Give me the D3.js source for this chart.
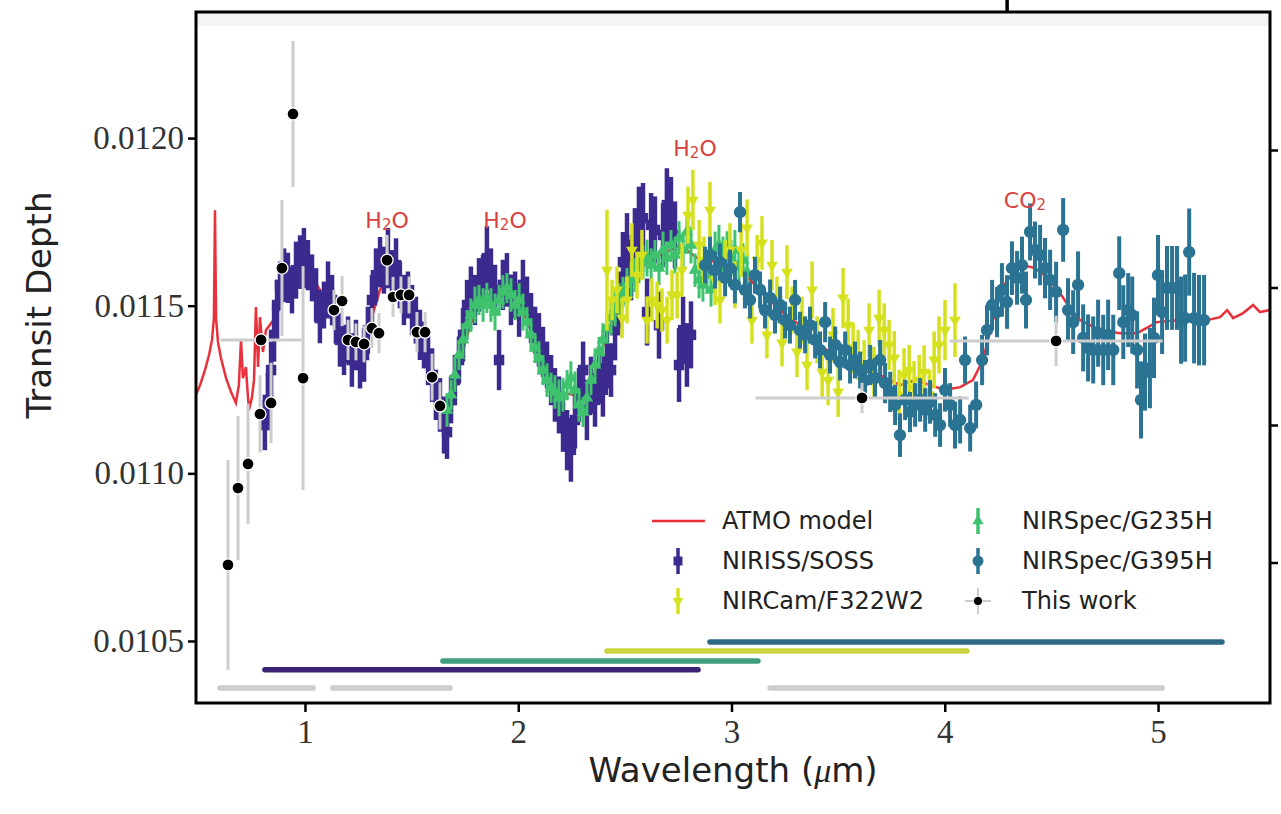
<!DOCTYPE html>
<html>
<head>
<meta charset="utf-8">
<script src="https://cdn.jsdelivr.net/npm/d3@7"></script>
<style>
  body { margin: 0; background: #fff; }
  svg { display: block; }
</style>
</head>
<body>
<svg></svg>
<script>
// transmission spectrum: transit depth (ppm) against wavelength (micron)

// ATMO model
const modelWl = [0.489,0.508,0.531,0.550,0.564,0.573,0.578,0.583,0.592,0.606,0.630,0.653,0.676,0.690,0.700,0.709,0.723,0.737,0.751,0.761,0.770,0.780,0.789,0.803,0.817,0.859,0.930,1.000,1.070,1.141,1.211,1.281,1.352,1.399,1.445,1.539,1.633,1.671,1.727,1.797,1.868,1.938,2.008,2.102,2.196,2.266,2.336,2.407,2.477,2.571,2.665,2.758,2.852,2.946,3.040,3.134,3.227,3.321,3.415,3.509,3.603,3.696,3.790,3.865,3.931,4.001,4.072,4.132,4.179,4.226,4.273,4.320,4.367,4.423,4.479,4.540,4.587,4.634,4.728,4.822,4.902,4.995,5.103,5.230,5.291,5.324,5.352,5.399,5.446,5.478,5.525];
const modelDepth = [11234,11263,11308,11353,11398,11463,11785,11463,11392,11344,11284,11243,11210,11263,11398,11284,11317,11189,11225,11278,11496,11317,11466,11362,11427,11463,11562,11621,11547,11457,11383,11398,11547,11606,11577,11427,11234,11189,11338,11487,11532,11532,11502,11368,11240,11234,11249,11398,11517,11612,11651,11681,11636,11630,11606,11547,11487,11442,11383,11338,11308,11293,11263,11278,11263,11249,11257,11278,11338,11457,11556,11600,11621,11612,11586,11538,11493,11457,11427,11418,11418,11451,11457,11457,11466,11487,11463,11478,11502,11481,11487];

// NIRISS/SOSS
const nirissWl = [0.812,0.826,0.841,0.855,0.869,0.883,0.902,0.920,0.939,0.958,0.977,0.995,1.014,1.033,1.052,1.070,1.089,1.108,1.127,1.145,1.164,1.183,1.202,1.220,1.239,1.258,1.277,1.295,1.314,1.333,1.352,1.370,1.389,1.408,1.427,1.445,1.464,1.483,1.502,1.520,1.539,1.558,1.577,1.596,1.614,1.633,1.652,1.666,1.685,1.703,1.722,1.741,1.760,1.778,1.797,1.816,1.835,1.853,1.872,1.891,1.910,1.928,1.947,1.966,1.985,2.004,2.022,2.041,2.060,2.079,2.097,2.116,2.135,2.154,2.172,2.191,2.210,2.229,2.247,2.266,2.285,2.304,2.322,2.341,2.360,2.379,2.397,2.416,2.435,2.454,2.473,2.491,2.510,2.529,2.547,2.566,2.585,2.604,2.623,2.641,2.660,2.679,2.697,2.716,2.735,2.754,2.773,2.791,2.810];
const nirissDepth = [11144,11219,11308,11413,11502,11562,11591,11583,11547,11606,11630,11642,11621,11583,11532,11463,11502,11547,11517,11457,11398,11368,11398,11338,11383,11323,11353,11427,11517,11591,11630,11606,11642,11591,11621,11562,11517,11532,11487,11457,11413,11383,11338,11293,11234,11204,11144,11123,11219,11278,11338,11413,11502,11547,11517,11562,11577,11642,11591,11547,11338,11562,11577,11517,11532,11487,11562,11517,11463,11427,11398,11362,11323,11278,11234,11204,11144,11099,11070,11159,11234,11308,11189,11263,11219,11293,11249,11338,11308,11427,11517,11630,11681,11606,11696,11755,11761,11481,11741,11726,11442,11711,11800,11779,11711,11323,11427,11353,11413];
const nirissErr = [75,80,85,80,75,70,80,75,70,85,80,90,75,70,80,75,70,85,75,70,80,75,70,80,75,70,80,70,75,80,75,70,90,75,80,70,75,70,75,70,75,70,75,80,75,80,85,80,70,75,70,80,75,70,75,80,75,95,80,75,90,75,80,75,70,80,75,70,75,70,80,75,70,75,80,85,80,90,95,85,80,85,90,85,80,85,80,85,80,90,85,90,95,90,95,100,105,100,95,100,100,95,110,105,100,110,100,95,100];

// NIRSpec/G235H
const g235Wl = [1.666,1.685,1.703,1.722,1.741,1.760,1.778,1.797,1.816,1.835,1.853,1.872,1.891,1.910,1.928,1.947,1.966,1.985,2.004,2.022,2.041,2.060,2.079,2.097,2.116,2.135,2.154,2.172,2.191,2.210,2.229,2.247,2.266,2.285,2.304,2.322,2.341,2.360,2.379,2.397,2.416,2.435,2.454,2.473,2.491,2.510,2.529,2.547,2.566,2.585,2.604,2.623,2.641,2.660,2.679,2.697,2.716,2.735,2.754,2.773,2.791,2.810,2.829,2.848,2.866,2.885,2.904,2.923,2.941,2.960,2.979,2.998,3.016,3.035,3.054,3.073];
const g235Depth = [11189,11234,11293,11353,11398,11442,11472,11502,11517,11502,11523,11502,11481,11517,11541,11553,11532,11502,11517,11481,11451,11413,11374,11344,11308,11278,11255,11243,11225,11234,11263,11284,11249,11204,11183,11225,11278,11323,11362,11398,11433,11463,11493,11517,11541,11562,11577,11591,11612,11630,11642,11621,11651,11612,11666,11642,11681,11651,11702,11666,11720,11681,11606,11577,11562,11591,11547,11666,11681,11651,11672,11642,11666,11621,11636,11600];
const g235Err = [50,45,50,45,50,45,50,55,45,50,45,50,55,45,50,45,50,45,50,55,45,50,45,50,45,50,45,50,55,50,45,50,55,50,45,50,45,50,45,50,45,50,55,50,45,50,55,50,45,50,55,50,45,50,55,50,45,55,50,55,60,55,50,55,50,55,50,55,60,55,50,55,60,55,50,55];

// NIRCam/F322W2
const nircamWl = [2.416,2.440,2.463,2.487,2.510,2.533,2.557,2.580,2.604,2.627,2.651,2.674,2.698,2.721,2.745,2.768,2.796,2.819,2.848,2.871,2.899,2.923,2.946,2.970,2.993,3.016,3.045,3.073,3.096,3.120,3.143,3.166,3.190,3.213,3.237,3.260,3.284,3.307,3.331,3.354,3.378,3.401,3.425,3.453,3.476,3.500,3.523,3.547,3.570,3.594,3.622,3.645,3.668,3.692,3.716,3.739,3.763,3.786,3.809,3.833,3.856,3.880,3.903,3.927,3.950,3.973,4.001,4.048];
const nircamDepth = [11606,11517,11547,11463,11517,11666,11591,11651,11457,11517,11502,11487,11457,11532,11532,11606,11770,11815,11681,11636,11785,11577,11517,11621,11666,11562,11666,11732,11457,11636,11687,11413,11621,11517,11389,11600,11487,11362,11457,11323,11547,11398,11302,11278,11413,11243,11523,11442,11374,11353,11323,11427,11302,11463,11427,11383,11344,11234,11293,11308,11255,11278,11302,11234,11338,11383,11427,11457];
const nircamErr = [180,60,70,60,70,80,70,75,70,65,70,65,70,75,70,80,85,90,75,70,85,75,70,75,80,70,80,85,70,75,80,70,75,70,70,80,70,75,70,75,85,70,75,75,80,75,90,80,75,75,75,80,75,85,80,75,80,75,80,75,80,75,80,75,85,85,90,110];

// NIRSpec/G395H
const g395Wl = [2.876,2.899,2.923,2.946,2.970,2.993,3.016,3.040,3.063,3.087,3.110,3.134,3.157,3.181,3.204,3.228,3.251,3.274,3.298,3.321,3.345,3.368,3.392,3.415,3.439,3.462,3.486,3.509,3.533,3.556,3.579,3.603,3.626,3.650,3.673,3.697,3.720,3.744,3.767,3.790,3.814,3.837,3.861,3.884,3.908,3.931,3.955,3.978,4.001,4.025,4.048,4.072,4.095,4.119,4.147,4.175,4.198,4.222,4.245,4.268,4.292,4.315,4.339,4.362,4.381,4.400,4.423,4.447,4.470,4.494,4.522,4.555,4.578,4.602,4.625,4.649,4.672,4.696,4.719,4.743,4.766,4.790,4.818,4.837,4.860,4.879,4.902,4.920,4.939,4.962,4.981,5.000,5.019,5.042,5.066,5.089,5.108,5.127,5.146,5.169,5.192,5.216];
const g395Depth = [11621,11651,11606,11630,11583,11612,11562,11779,11547,11517,11591,11547,11487,11523,11472,11502,11457,11442,11517,11427,11413,11442,11398,11368,11451,11353,11383,11332,11368,11323,11338,11308,11278,11323,11284,11338,11269,11243,11204,11114,11219,11183,11204,11219,11189,11213,11174,11144,11249,11204,11144,11159,11338,11135,11204,11338,11427,11502,11481,11547,11511,11612,11583,11621,11517,11720,11666,11651,11612,11577,11541,11726,11487,11451,11562,11404,11374,11368,11418,11368,11413,11368,11597,11451,11487,11472,11368,11219,11302,11314,11404,11591,11481,11553,11553,11553,11457,11463,11660,11463,11457,11457];
const g395Err = [55,55,55,55,55,55,55,60,55,55,55,55,55,55,55,55,55,55,60,55,55,55,55,55,60,55,55,55,55,55,55,55,60,60,60,60,60,60,60,65,60,60,65,65,65,65,65,65,65,65,70,70,70,70,70,75,75,75,75,80,80,80,80,85,85,85,85,90,90,90,90,95,95,95,100,100,100,100,100,105,105,105,110,110,110,115,115,115,115,120,120,120,125,125,125,125,130,130,130,135,135,135];

// this work (binned points, some with a wavelength half-width)
const workWl = [0.639,0.686,0.733,0.789,0.794,0.841,0.892,0.944,0.991,1.136,1.174,1.202,1.239,1.277,1.314,1.347,1.385,1.413,1.450,1.488,1.525,1.563,1.596,1.633,3.612,4.522];
const workDepth = [10727,10956,11028,11177,11398,11210,11612,12072,11284,11487,11514,11398,11392,11386,11433,11418,11636,11526,11532,11532,11421,11421,11287,11201,11225,11395];
const workErr = [313,215,180,115,20,120,203,218,334,60,75,60,55,55,60,60,75,60,55,55,60,60,70,70,45,75];
const workHalfWidth = [0,0,0,0,0.19,0,0,0,0,0,0,0,0,0,0,0,0,0,0,0,0,0,0,0,0.5,0.5];

// wavelength coverage of each instrument, drawn along the bottom
const coverageNames = ["NIRSpec/G395H","NIRCam/F322W2","NIRSpec/G235H","NIRISS/SOSS","This work","This work","This work"];
const coverageStart = [2.899,2.416,1.647,0.812,0.601,1.131,3.181];
const coverageEnd = [5.300,4.104,3.124,2.843,1.038,1.680,5.019];
const coverageLevel = [10497,10470,10440,10414,10360,10360,10360];

// molecule labels
const molecules = ["H2O","H2O","H2O","CO2"];
const moleculeWl = [1.385,1.938,2.829,4.376];
const moleculeDepth = [11755,11755,11970,11815];

const xTicks = [1,2,3,4,5];
const yTicks = [10500,11000,11500,12000];
const rightTicks = [1,2,3,4];
// a tick of the panel above, cut by the crop
const topTicks = [4.29];

const colors = {
  model: "#e8313a",
  niriss: "#3d2a8e",
  g235: "#3ec26e",
  nircam: "#d6e11e",
  g395: "#2a7393",
  work: "#000000",
  workBar: "#cdcdcd",
  label: "#d8413f"
};
const coverageColors = {
  "NIRSpec/G395H": "#2d6887",
  "NIRCam/F322W2": "#cbd544",
  "NIRSpec/G235H": "#3f9e80",
  "NIRISS/SOSS": "#3b2275",
  "This work": "#cccccc"
};

const width = 1281, height = 814;
const svg = d3.select("svg").attr("width", width).attr("height", height);

const plotLeft = 196, plotRight = 1270, plotTop = 12, plotBottom = 703;

const x = d3.scaleLinear().domain([0.489, 5.525]).range([plotLeft, plotRight]);
const y = d3.scaleLinear().domain([10315, 12376]).range([plotBottom, plotTop]);
const yRight = d3.scaleLinear().domain([0, 5]).range([700, 12.5]);

// faint band below the top frame
svg.append("rect")
  .attr("x", plotLeft).attr("y", plotTop)
  .attr("width", plotRight - plotLeft).attr("height", 14)
  .attr("fill", "#f4f4f4");

const plot = svg.append("g");

// coverage bars
coverageNames.forEach((name, i) => {
  plot.append("line")
    .attr("x1", x(coverageStart[i])).attr("x2", x(coverageEnd[i]))
    .attr("y1", y(coverageLevel[i])).attr("y2", y(coverageLevel[i]))
    .attr("stroke", coverageColors[name])
    .attr("stroke-width", 5.5)
    .attr("stroke-linecap", "round");
});

// model line
plot.append("path")
  .datum(d3.zip(modelWl, modelDepth))
  .attr("d", d3.line().x(d => x(d[0])).y(d => y(d[1])))
  .attr("fill", "none")
  .attr("stroke", colors.model)
  .attr("stroke-width", 2.5);

// draws one instrument with its error bars and marker shape
function drawSeries(wl, depth, err, color, marker, barWidth) {
  const pts = d3.zip(wl, depth, err);
  const g = plot.append("g");
  g.selectAll("line")
    .data(pts)
    .enter().append("line")
    .attr("x1", d => x(d[0])).attr("x2", d => x(d[0]))
    .attr("y1", d => y(d[1] - d[2])).attr("y2", d => y(d[1] + d[2]))
    .attr("stroke", color)
    .attr("stroke-width", barWidth);
  g.selectAll("path")
    .data(pts)
    .enter().append("path")
    .attr("transform", d => `translate(${x(d[0])},${y(d[1])})${marker.rotate ? " rotate(180)" : ""}`)
    .attr("d", d3.symbol().type(marker.type).size(marker.size))
    .attr("fill", color);
}

drawSeries(nirissWl, nirissDepth, nirissErr, colors.niriss, {type: d3.symbolSquare, size: 110}, 4.5);
drawSeries(g235Wl, g235Depth, g235Err, colors.g235, {type: d3.symbolTriangle, size: 70}, 3);
drawSeries(nircamWl, nircamDepth, nircamErr, colors.nircam, {type: d3.symbolTriangle, size: 60, rotate: true}, 3.5);
drawSeries(g395Wl, g395Depth, g395Err, colors.g395, {type: d3.symbolCircle, size: 120}, 4);

// this work: grey bars in both directions, black dots
const work = d3.zip(workWl, workDepth, workErr, workHalfWidth);
const wg = plot.append("g");
wg.selectAll(".v")
  .data(work)
  .enter().append("line")
  .attr("x1", d => x(d[0])).attr("x2", d => x(d[0]))
  .attr("y1", d => y(d[1] - d[2])).attr("y2", d => y(d[1] + d[2]))
  .attr("stroke", colors.workBar).attr("stroke-width", 3);
wg.selectAll(".h")
  .data(work.filter(d => d[3] > 0))
  .enter().append("line")
  .attr("x1", d => x(d[0] - d[3])).attr("x2", d => x(d[0] + d[3]))
  .attr("y1", d => y(d[1])).attr("y2", d => y(d[1]))
  .attr("stroke", colors.workBar).attr("stroke-width", 3);
wg.selectAll("circle")
  .data(work)
  .enter().append("circle")
  .attr("cx", d => x(d[0])).attr("cy", d => y(d[1]))
  .attr("r", 6)
  .attr("fill", colors.work)
  .attr("stroke", "#ffffff").attr("stroke-width", 1.3);

// molecule labels
molecules.forEach((m, i) => {
  const t = svg.append("text")
    .attr("x", x(moleculeWl[i])).attr("y", y(moleculeDepth[i]))
    .attr("text-anchor", "middle")
    .attr("dominant-baseline", "central")
    .attr("font-family", "DejaVu Sans, sans-serif")
    .attr("font-size", 22)
    .attr("fill", colors.label);
  t.append("tspan").text(m[0] + (m[0] === "H" ? "" : m[1]));
  t.append("tspan").attr("font-size", 15).attr("dy", 5).text(m[0] === "H" ? m[1] : m[2]);
  t.append("tspan").attr("dy", -5).text(m[0] === "H" ? m[2] : "");
});

// axes
const serif = "Liberation Serif, DejaVu Serif, serif";

const xAxis = svg.append("g")
  .attr("transform", `translate(0,${plotBottom})`)
  .call(d3.axisBottom(x).tickValues(xTicks).tickSize(9).tickPadding(8).tickFormat(d3.format("d")));
const yAxis = svg.append("g")
  .attr("transform", `translate(${plotLeft},0)`)
  .call(d3.axisLeft(y).tickValues(yTicks).tickSize(8).tickPadding(4).tickFormat(d => (d / 1e6).toFixed(4)));
const rAxis = svg.append("g")
  .attr("transform", `translate(${plotRight},0)`)
  .call(d3.axisRight(yRight).tickValues(rightTicks).tickSize(8).tickFormat(""));
const tAxis = svg.append("g")
  .attr("transform", `translate(0,${plotTop})`)
  .call(d3.axisTop(x).tickValues(topTicks).tickSize(13).tickFormat(""));

[xAxis, yAxis, rAxis, tAxis].forEach(a => {
  a.select(".domain").remove();
  a.selectAll(".tick line").attr("stroke", "#000").attr("stroke-width", 2.5);
  a.selectAll(".tick text")
    .attr("font-family", serif)
    .attr("font-size", 33)
    .attr("fill", "#333");
});
tAxis.selectAll(".tick line").attr("stroke-width", 3.5);

// frame
svg.append("rect")
  .attr("x", plotLeft).attr("y", plotTop)
  .attr("width", plotRight - plotLeft).attr("height", plotBottom - plotTop)
  .attr("fill", "none")
  .attr("stroke", "#000")
  .attr("stroke-width", 3);

// axis titles
svg.append("text")
  .attr("x", 733)
  .attr("y", 782)
  .attr("text-anchor", "middle")
  .attr("font-family", "DejaVu Sans, sans-serif")
  .attr("font-size", 34)
  .attr("fill", "#222")
  .call(t => {
    t.append("tspan").text("Wavelength (");
    t.append("tspan").attr("font-family", serif).attr("font-style", "italic").text("μ");
    t.append("tspan").text("m)");
  });

svg.append("text")
  .attr("transform", `translate(51,305) rotate(-90)`)
  .attr("text-anchor", "middle")
  .attr("font-family", "DejaVu Sans, sans-serif")
  .attr("font-size", 34)
  .attr("fill", "#222")
  .text("Transit Depth");

// legend
const legendItems = [
  {name: "ATMO model", kind: "line", color: colors.model, col: 0, row: 0},
  {name: "NIRISS/SOSS", kind: "marker", color: colors.niriss, type: d3.symbolSquare, size: 80, col: 0, row: 1},
  {name: "NIRCam/F322W2", kind: "marker", color: colors.nircam, type: d3.symbolTriangle, size: 50, rotate: true, col: 0, row: 2},
  {name: "NIRSpec/G235H", kind: "marker", color: colors.g235, type: d3.symbolTriangle, size: 55, col: 1, row: 0},
  {name: "NIRSpec/G395H", kind: "marker", color: colors.g395, type: d3.symbolCircle, size: 95, col: 1, row: 1},
  {name: "This work", kind: "work", color: colors.work, col: 1, row: 2}
];

const legend = svg.append("g").attr("transform", "translate(650,521)");
legendItems.forEach(item => {
  const g = legend.append("g").attr("transform", `translate(${item.col * 300},${item.row * 40})`);
  const hx = 28;
  if (item.kind === "line") {
    g.append("line").attr("x1", 2).attr("x2", 55).attr("y1", 0).attr("y2", 0)
      .attr("stroke", item.color).attr("stroke-width", 2.5);
  } else if (item.kind === "marker") {
    g.append("line").attr("x1", hx).attr("x2", hx).attr("y1", -13).attr("y2", 13)
      .attr("stroke", item.color).attr("stroke-width", 3.5);
    g.append("path")
      .attr("transform", `translate(${hx},0)${item.rotate ? " rotate(180)" : ""}`)
      .attr("d", d3.symbol().type(item.type).size(item.size))
      .attr("fill", item.color);
  } else {
    g.append("line").attr("x1", hx).attr("x2", hx).attr("y1", -13).attr("y2", 13)
      .attr("stroke", colors.workBar).attr("stroke-width", 2);
    g.append("line").attr("x1", hx - 13).attr("x2", hx + 13).attr("y1", 0).attr("y2", 0)
      .attr("stroke", colors.workBar).attr("stroke-width", 2);
    g.append("circle").attr("cx", hx).attr("cy", 0).attr("r", 4).attr("fill", "#000");
  }
  g.append("text")
    .attr("x", 72).attr("y", 0)
    .attr("dominant-baseline", "central")
    .attr("font-family", "DejaVu Sans, sans-serif")
    .attr("font-size", 24)
    .attr("fill", "#222")
    .text(item.name);
});
</script>
</body>
</html>
